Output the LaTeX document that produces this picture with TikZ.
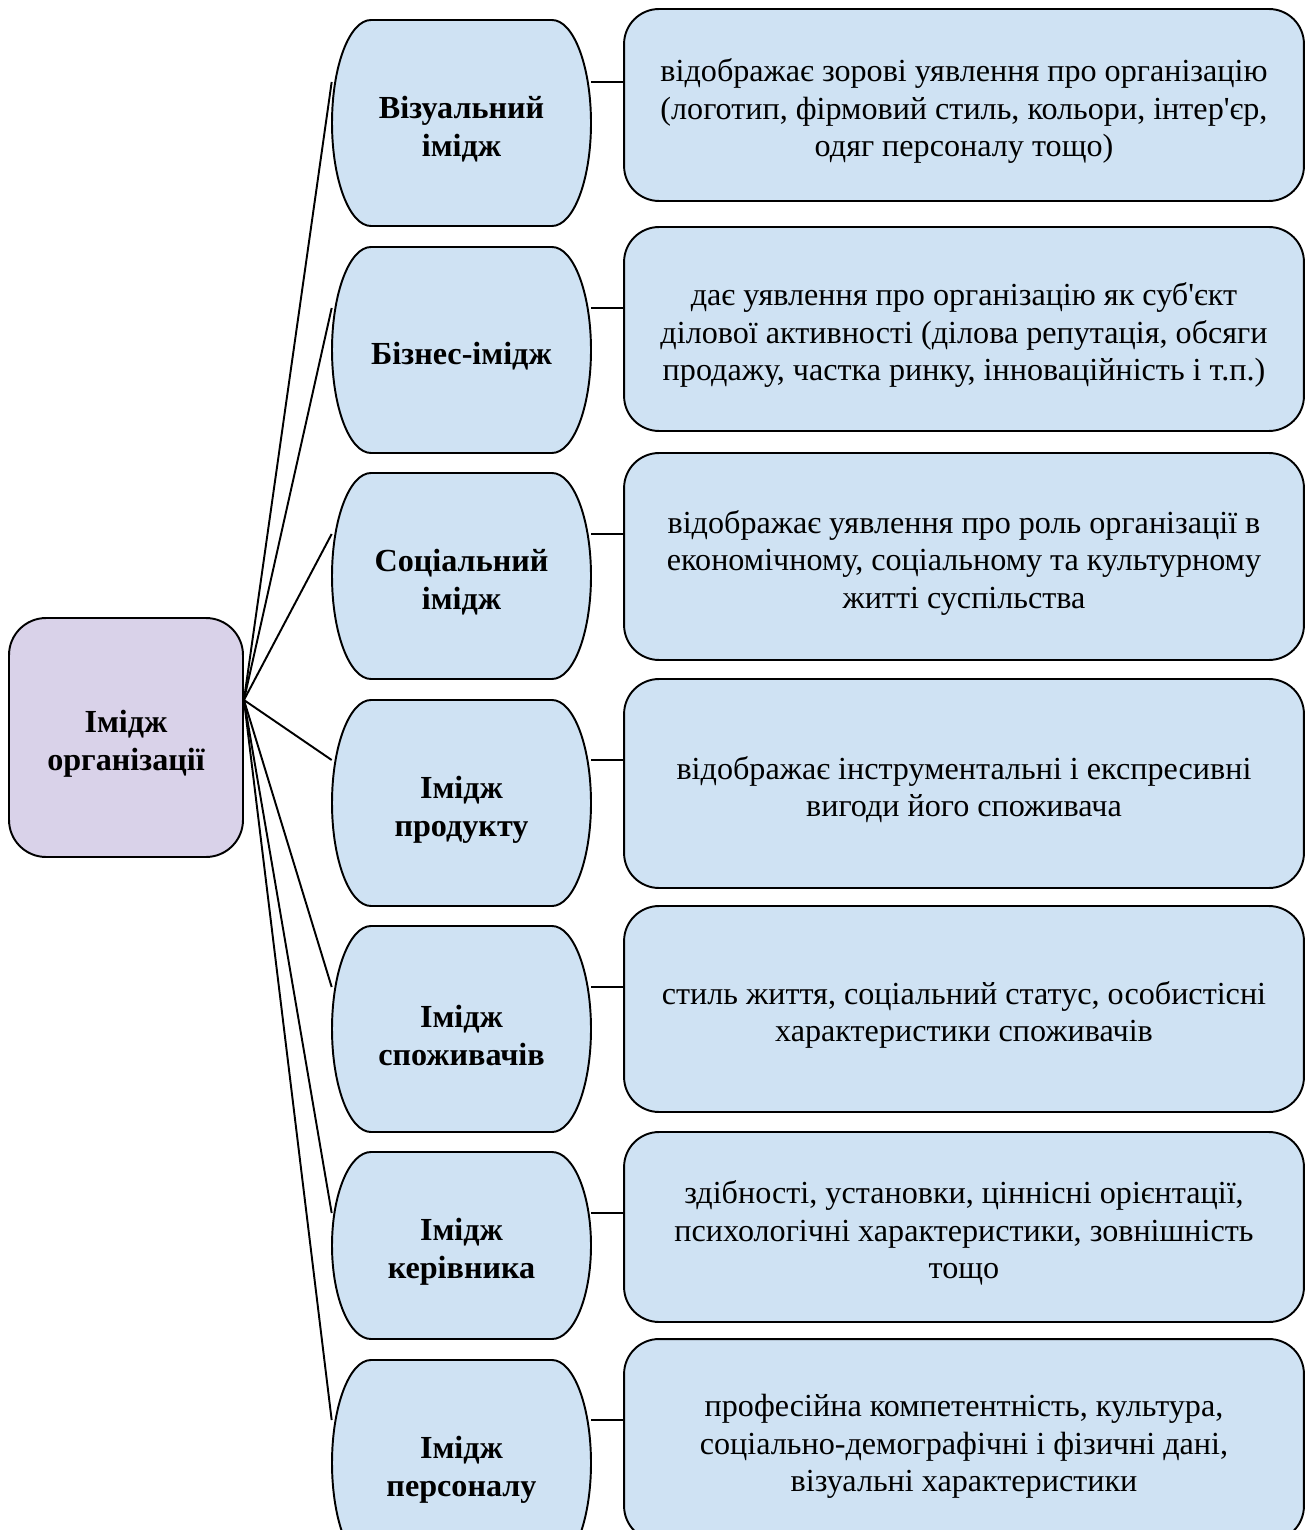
\documentclass[tikz,border=0pt]{standalone}
\usepackage{fontspec}
\setmainfont{Liberation Serif}[Ligatures=TeXOff]

\definecolor{orgfill}{RGB}{217,210,233}
\definecolor{kindfill}{RGB}{207,226,243}

% first line a little taller, so the text sits as low as in the original
\newcommand{\boxstrut}{\rule{0pt}{20pt}}
% barrel outline of a kind: centre y and half height, in px
\newcommand{\kindshape}[2]{%
	\filldraw[kindline] (371,#1-#2) -- (552,#1-#2)
		arc[start angle=90, end angle=-90, x radius=0.78cm, y radius=#2*0.02cm]
		-- (371,#1+#2)
		arc[start angle=-90, end angle=-270, x radius=0.78cm, y radius=#2*0.02cm] -- cycle;
}

\tikzset{
	base/.style={align=flush center, inner sep=0pt, execute at begin node=\boxstrut, font=\fontsize{18.3}{21.3}\selectfont},
	orgbox/.style={base, draw, line width=1.1pt, fill=orgfill, rounded corners=0.74cm, text width=4.4cm, minimum width=4.68cm, minimum height=4.78cm, font=\fontsize{18.3}{21.6}\selectfont\bfseries},
	kindline/.style={line width=1.1pt, fill=kindfill},
	kind/.style={base, text width=4.9cm, minimum width=5.18cm, minimum height=4.12cm, font=\fontsize{18.3}{21.6}\selectfont\bfseries},
	descr/.style={base, draw, line width=1.1pt, fill=kindfill, rounded corners=0.7cm, text width=13cm, minimum width=13.6cm},
	link/.style={line width=1.1pt}
}

\begin{document}
\begin{tikzpicture}[x=0.02cm, y=-0.02cm]
	\useasboundingbox (0,0) rectangle (1306,1530);

	\node[orgbox] (org) at (126,737.5) {Імідж\\організації};

	\kindshape{123}{103}
	\kindshape{350}{103}
	\kindshape{576}{103}
	\kindshape{803}{103}
	\kindshape{1029}{103}
	\kindshape{1245.5}{93.5}
	\kindshape{1463}{103}

	\node[kind] (vis) at (461.5,123) {Візуальний\\імідж};
	\node[kind] (biz) at (461.5,350) {Бізнес-імідж};
	\node[kind] (soc) at (461.5,576) {Соціальний\\імідж};
	\node[kind] (prod) at (461.5,803) {Імідж\\продукту};
	\node[kind] (cons) at (461.5,1029) {Імідж\\споживачів};
	\node[kind, minimum height=3.74cm] (head) at (461.5,1245.5) {Імідж\\керівника};
	\node[kind] (staff) at (461.5,1463) {Імідж\\персоналу};

	\node[descr, minimum height=3.84cm] (visd) at (964,105) {відображає зорові уявлення про організацію\\(логотип, фірмовий стиль, кольори, інтер'єр,\\одяг персоналу тощо)};
	\node[descr, minimum height=4.08cm] (bizd) at (964,329) {дає уявлення про організацію як суб'єкт\\ділової активності (ділова репутація, обсяги\\продажу, частка ринку, інноваційність і т.п.)};
	\node[descr, minimum height=4.14cm] (socd) at (964,556.5) {відображає уявлення про роль організації в\\економічному, соціальному та культурному\\житті суспільства};
	\node[descr, minimum height=4.18cm] (prodd) at (964,783.5) {відображає інструментальні і експресивні\\вигоди його споживача};
	\node[descr, minimum height=4.12cm] (consd) at (964,1009) {стиль життя, соціальний статус, особистісні\\характеристики споживачів};
	\node[descr, minimum height=3.8cm] (headd) at (964,1227) {здібності, установки, ціннісні орієнтації,\\психологічні характеристики, зовнішність\\тощо};
	\node[descr, minimum height=4.04cm] (staffd) at (964,1440) {професійна компетентність, культура,\\соціально-демографічні і фізичні дані,\\візуальні характеристики};

	% from the organisation to each kind
	\coordinate (org-r) at ([yshift=0.75cm]org.east);
	\draw[link] (org-r) -- ([yshift=0.82cm]vis.west);
	\draw[link] (org-r) -- ([yshift=0.84cm]biz.west);
	\draw[link] (org-r) -- ([yshift=0.84cm]soc.west);
	\draw[link] (org-r) -- ([yshift=0.86cm]prod.west);
	\draw[link] (org-r) -- ([yshift=0.84cm]cons.west);
	\draw[link] (org-r) -- ([yshift=0.65cm]head.west);
	\draw[link] (org-r) -- ([yshift=0.86cm]staff.west);

	% from each kind to its description
	\coordinate (vis-r) at ([yshift=0.82cm]vis.east);
	\coordinate (biz-r) at ([yshift=0.84cm]biz.east);
	\coordinate (soc-r) at ([yshift=0.84cm]soc.east);
	\coordinate (prod-r) at ([yshift=0.86cm]prod.east);
	\coordinate (cons-r) at ([yshift=0.84cm]cons.east);
	\coordinate (head-r) at ([yshift=0.65cm]head.east);
	\coordinate (staff-r) at ([yshift=0.86cm]staff.east);
	\draw[link] (vis-r) -- (vis-r -| visd.west);
	\draw[link] (biz-r) -- (biz-r -| bizd.west);
	\draw[link] (soc-r) -- (soc-r -| socd.west);
	\draw[link] (prod-r) -- (prod-r -| prodd.west);
	\draw[link] (cons-r) -- (cons-r -| consd.west);
	\draw[link] (head-r) -- (head-r -| headd.west);
	\draw[link] (staff-r) -- (staff-r -| staffd.west);
\end{tikzpicture}
\end{document}
